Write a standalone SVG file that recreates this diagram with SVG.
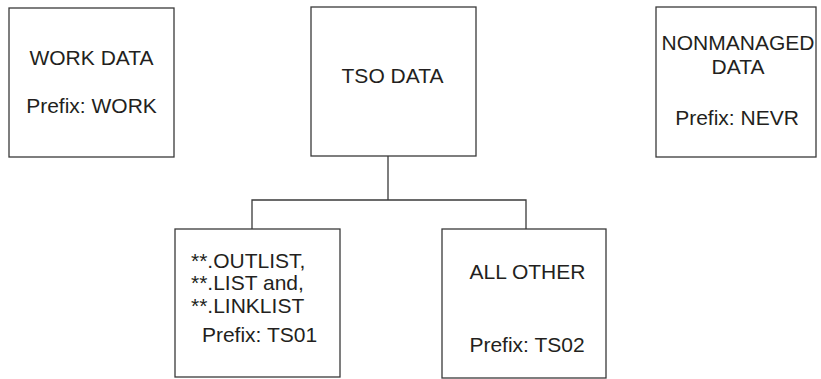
<svg xmlns="http://www.w3.org/2000/svg" width="821" height="379" viewBox="0 0 821 379">
<style>
.box{fill:#fff;stroke:#3a3a3a;stroke-width:1.3}
.t{font-family:"Liberation Sans",Arial,sans-serif;font-size:21px;fill:#231f20;text-anchor:middle}
.l{text-anchor:start}
.c{fill:none;stroke:#3a3a3a;stroke-width:1.3}
</style>
<rect width="821" height="379" fill="#fff"/>
<g id="connectors">
<path class="c" d="M388 156V200M252 229V200H526V229"/>
</g>
<g id="work">
<rect class="box" x="9" y="8" width="165" height="149"/>
<text class="t" x="91.5" y="65">WORK DATA</text>
<text class="t" x="91.5" y="113">Prefix: WORK</text>
</g>
<g id="tso">
<rect class="box" x="311" y="7" width="165" height="149"/>
<text class="t" x="392.5" y="83">TSO DATA</text>
</g>
<g id="nonmanaged">
<rect class="box" x="656" y="7" width="160" height="150"/>
<text class="t" x="738" y="50">NONMANAGED</text>
<text class="t" x="738" y="74">DATA</text>
<text class="t" x="737" y="125">Prefix: NEVR</text>
</g>
<g id="ts01">
<rect class="box" x="175" y="229" width="165" height="148"/>
<text class="t l" x="191" y="268">**.OUTLIST,</text>
<text class="t l" x="191" y="290">**.LIST and,</text>
<text class="t l" x="191" y="313">**.LINKLIST</text>
<text class="t" x="259.5" y="342">Prefix: TS01</text>
</g>
<g id="ts02">
<rect class="box" x="442" y="229" width="164" height="149"/>
<text class="t" x="527.5" y="279">ALL OTHER</text>
<text class="t" x="527" y="352">Prefix: TS02</text>
</g>
</svg>
